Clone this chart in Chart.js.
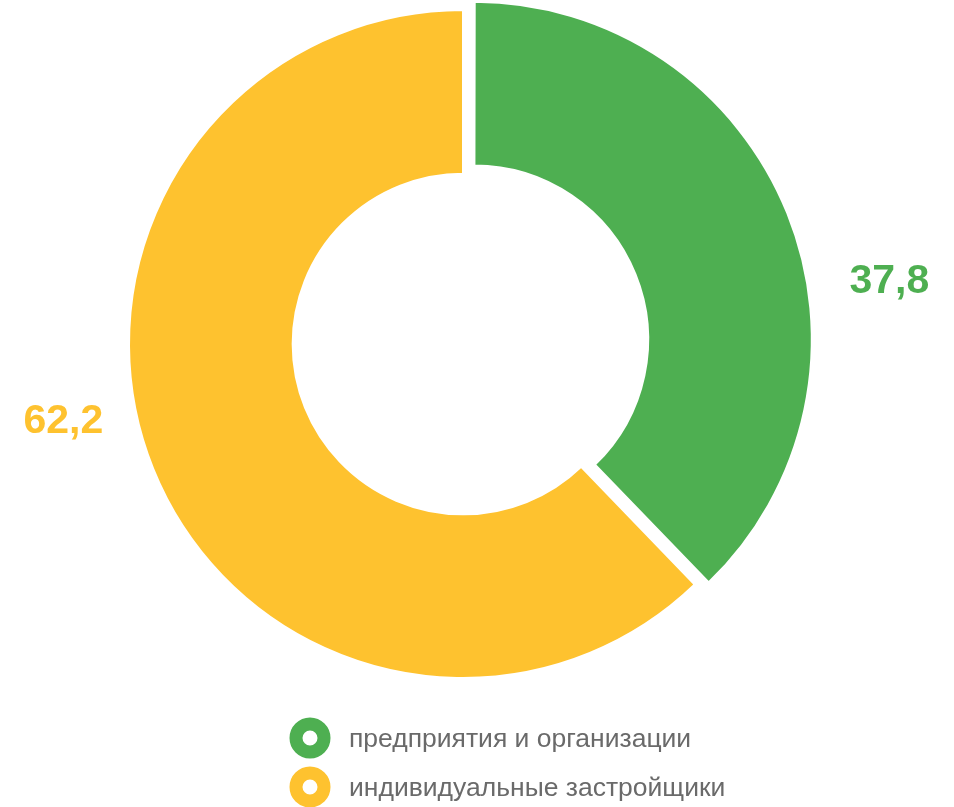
<!DOCTYPE html>
<html>
<head>
<meta charset="utf-8">
<script src="https://cdn.jsdelivr.net/npm/chart.js@4"></script>
<style>
  body { margin: 0; background: #fff; overflow: hidden; }
  /* canvas is a bit taller and pulled up: the exploded slice needs room above */
  canvas { display: block; margin-top: -15px; }
</style>
</head>
<body>
<canvas id="donutChart" width="954" height="822"></canvas>
<script>
const labels = ["предприятия и организации", "индивидуальные застройщики"];
const values = [37.8, 62.2];
const valueLabels = ["37,8", "62,2"];
const colors = ["#4EAF51", "#FEC22F"];
// chart.js moves a slice by offset / 4
const offsets = [48, 0];

// numbers outside the ring, coloured like their slice
const outsideLabels = {
  id: "outsideLabels",
  afterDatasetsDraw(chart) {
    const ctx = chart.ctx;
    const meta = chart.getDatasetMeta(0);
    ctx.save();
    ctx.font = "bold 41px 'Liberation Sans', Arial, sans-serif";
    ctx.textAlign = "center";
    ctx.textBaseline = "middle";
    meta.data.forEach((arc, i) => {
      const p = arc.getProps(["x", "y", "startAngle", "endAngle", "outerRadius"], true);
      const mid = (p.startAngle + p.endAngle) / 2;
      const x = p.x + Math.cos(mid) * (p.outerRadius * 1.29 + offsets[i] * 0.6);
      const y = p.y + Math.sin(mid) * p.outerRadius * 0.56 + 8;
      ctx.fillStyle = colors[i];
      ctx.fillText(valueLabels[i], x, y);
    });
    ctx.restore();
  }
};

// legend drawn by hand so the two items stack
const ringLegend = {
  id: "ringLegend",
  afterDraw(chart) {
    const ctx = chart.ctx;
    const left = 310;
    const top = 753;
    ctx.save();
    ctx.font = "26.5px 'Liberation Sans', Arial, sans-serif";
    ctx.textAlign = "left";
    ctx.textBaseline = "alphabetic";
    labels.forEach((txt, i) => {
      const y = top + i * 49;
      ctx.beginPath();
      ctx.arc(left, y, 14, 0, Math.PI * 2);
      ctx.fillStyle = "#fff";
      ctx.fill();
      ctx.lineWidth = 13;
      ctx.strokeStyle = colors[i];
      ctx.stroke();
      ctx.fillStyle = "#6a6a6a";
      ctx.fillText(txt, left + 39, y + 9);
    });
    ctx.restore();
  }
};

new Chart(document.getElementById("donutChart"), {
  type: "doughnut",
  data: {
    labels: labels,
    datasets: [{
      data: values,
      backgroundColor: colors,
      borderColor: "#fff",
      borderWidth: 2,
      offset: offsets,
      hoverOffset: 0
    }]
  },
  options: {
    responsive: false,
    animation: false,
    events: [],
    cutout: "51%",
    layout: { padding: { left: 0, right: 28, top: 0, bottom: 104 } },
    plugins: {
      legend: { display: false },
      tooltip: { enabled: false }
    }
  },
  plugins: [outsideLabels, ringLegend]
});
</script>
</body>
</html>
